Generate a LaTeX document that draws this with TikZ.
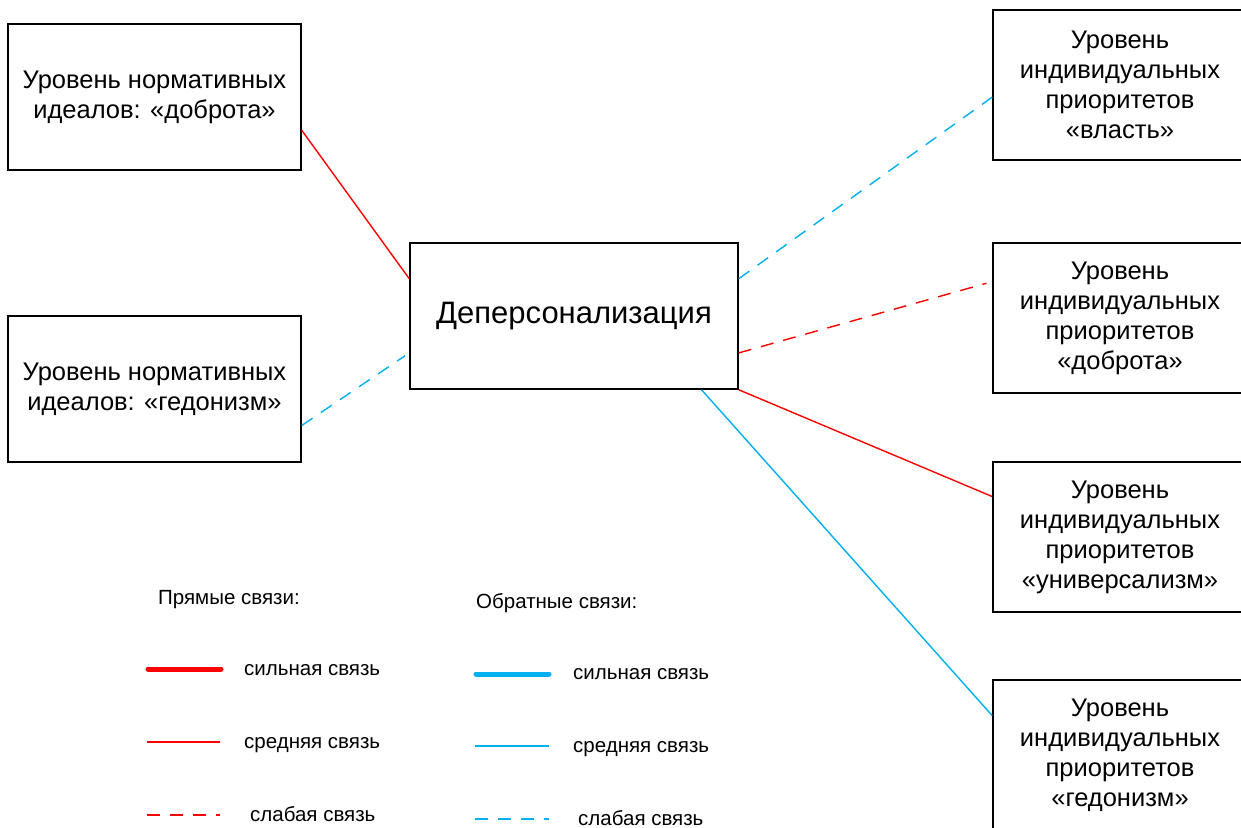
\documentclass[tikz,border=0pt]{standalone}
\usepackage{fontspec}
\setmainfont{Liberation Sans}
\usetikzlibrary{calc}
\definecolor{linkred}{HTML}{FF0000}
\definecolor{linkblue}{HTML}{00B0F0}
\newcommand{\boxfont}{\fontsize{25.5}{30}\selectfont}
\newcommand{\mainfont}{\fontsize{31}{36}\selectfont}
\newcommand{\keyfont}{\fontsize{20.5}{24}\selectfont}
\begin{document}
\begin{tikzpicture}[x=1pt,y=-1pt,
  box/.style={draw=black, line width=1.6pt, align=center, inner sep=0pt, font=\boxfont},
  leftbox/.style={box, minimum width=293pt, minimum height=146pt},
  rightbox/.style={box, minimum width=254pt, minimum height=150pt},
  link/.style={line width=1.4pt},
  weak/.style={link, dash pattern=on 13pt off 10pt},
  strongkey/.style={line width=5pt, line cap=round},
  keytext/.style={anchor=base west, inner sep=0pt, font=\keyfont}
]
\useasboundingbox (0,0) rectangle (1241,827);
\clip (0,0) rectangle (1241,827);

% value-level boxes on the left
\node[leftbox] (b1) at (154.5,97) {Уровень нормативных\\идеалов: «доброта»};
\node[leftbox] (b2) at (154.5,389) {Уровень нормативных\\идеалов: «гедонизм»};

% central construct
\node[box, minimum width=328pt, minimum height=146pt, font=\mainfont] (c) at (574,316) {Деперсонализация};

% individual priority boxes on the right
\node[rightbox] (r1) at (1120,85) {Уровень\\индивидуальных\\приоритетов\\«власть»};
\node[rightbox] (r2) at (1120,318) {Уровень\\индивидуальных\\приоритетов\\«доброта»};
\node[rightbox] (r3) at (1120,537) {Уровень\\индивидуальных\\приоритетов\\«универсализм»};
\node[rightbox] (r4) at (1120,755) {Уровень\\индивидуальных\\приоритетов\\«гедонизм»};

% links
\draw[link, linkred] ($(b1.north east)!0.726!(b1.south east)$) -- ($(c.north west)!0.247!(c.south west)$);
\draw[weak, linkblue, shorten >=5pt] ($(b2.north east)!0.747!(b2.south east)$) -- ($(c.north west)!0.75!(c.south west)$);
\draw[weak, linkblue] ($(c.north east)!0.247!(c.south east)$) -- ($(r1.north west)!0.58!(r1.south west)$);
\draw[weak, linkred, shorten >=6pt] ($(c.north east)!0.75!(c.south east)$) -- ($(r2.north west)!0.26!(r2.south west)$);
\draw[link, linkred] (c.south east) -- ($(r3.north west)!0.233!(r3.south west)$);
\draw[link, linkblue] ($(c.south west)!0.887!(c.south east)$) -- ($(r4.north west)!0.24!(r4.south west)$);

% key: direct links
\node[keytext] (k1) at (158,604) {Прямые связи:};
\draw[strongkey, linkred] (148,669) -- (221,669);
\node[keytext] (k1a) at (244,675) {сильная связь};
\draw[link, linkred] (147,742) -- (220,742);
\node[keytext] (k1b) at (244,748) {средняя связь};
\draw[weak, linkred] (147,815) -- (220,815);
\node[keytext] (k1c) at (250,821) {слабая связь};

% key: feedback links
\node[keytext] (k2) at (476,608) {Обратные связи:};
\draw[strongkey, linkblue] (476,674) -- (549,674);
\node[keytext] (k2a) at (573,679) {сильная связь};
\draw[link, linkblue] (475,746) -- (549,746);
\node[keytext] (k2b) at (573,752) {средняя связь};
\draw[weak, linkblue] (475,819) -- (549,819);
\node[keytext] (k2c) at (578,825) {слабая связь};
\end{tikzpicture}
\end{document}
